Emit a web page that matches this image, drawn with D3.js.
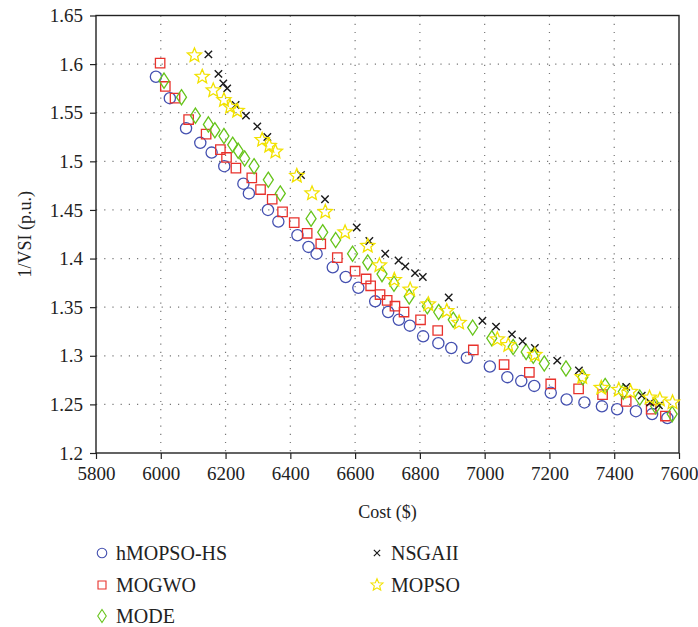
<!DOCTYPE html>
<html>
<head>
<meta charset="utf-8">
<script src="https://cdn.jsdelivr.net/npm/d3@7"></script>
<style>
  body { margin: 0; background: #fff; }
  svg { display: block; font-family: "Liberation Serif", "DejaVu Serif", serif; }
</style>
</head>
<body>
<svg id="chart" width="698" height="627"></svg>
<script>
// Axis ticks
var xTicks = [5800, 6000, 6200, 6400, 6600, 6800, 7000, 7200, 7400, 7600];
var yTicks = [1.2, 1.25, 1.3, 1.35, 1.4, 1.45, 1.5, 1.55, 1.6, 1.65];

// Series: [cost, 1/VSI]
var hmopsoHs = [
  [5985, 1.587], [6028, 1.565], [6078, 1.534], [6122, 1.519], [6157, 1.509],
  [6196, 1.495], [6255, 1.477], [6272, 1.467], [6331, 1.450], [6363, 1.438],
  [6422, 1.424], [6456, 1.412], [6481, 1.405], [6531, 1.391], [6571, 1.381],
  [6610, 1.370], [6662, 1.356], [6702, 1.345], [6735, 1.337], [6769, 1.331],
  [6810, 1.320], [6857, 1.313], [6897, 1.308], [6945, 1.298], [7016, 1.289],
  [7070, 1.278], [7113, 1.274], [7153, 1.269], [7204, 1.262], [7253, 1.255],
  [7308, 1.252], [7362, 1.248], [7409, 1.245], [7467, 1.243], [7517, 1.240],
  [7564, 1.236]
];
var mogwo = [
  [5998, 1.601], [6014, 1.577], [6044, 1.565], [6086, 1.543], [6140, 1.528],
  [6184, 1.512], [6203, 1.504], [6232, 1.493], [6281, 1.483], [6308, 1.471],
  [6344, 1.461], [6376, 1.448], [6412, 1.437], [6452, 1.426], [6494, 1.415],
  [6545, 1.401], [6600, 1.387], [6634, 1.379], [6648, 1.372], [6677, 1.363],
  [6699, 1.357], [6723, 1.351], [6751, 1.345], [6802, 1.337], [6855, 1.326],
  [6965, 1.306], [7060, 1.291], [7138, 1.283], [7204, 1.271], [7290, 1.266],
  [7364, 1.260], [7437, 1.253], [7514, 1.245], [7558, 1.238]
];
var mode = [
  [6010, 1.583], [6064, 1.566], [6107, 1.547], [6147, 1.538], [6167, 1.532],
  [6195, 1.526], [6222, 1.517], [6239, 1.511], [6259, 1.503], [6288, 1.495],
  [6332, 1.481], [6369, 1.467], [6464, 1.441], [6500, 1.427], [6540, 1.419],
  [6592, 1.405], [6639, 1.396], [6683, 1.384], [6720, 1.374], [6767, 1.361],
  [6823, 1.351], [6858, 1.345], [6903, 1.337], [6963, 1.329], [7022, 1.318],
  [7088, 1.309], [7128, 1.304], [7150, 1.300], [7184, 1.292], [7251, 1.287],
  [7303, 1.278], [7372, 1.269], [7428, 1.263], [7479, 1.257], [7528, 1.248],
  [7579, 1.240]
];
var nsgaii = [
  [6147, 1.610], [6178, 1.590], [6193, 1.580], [6205, 1.575], [6231, 1.558],
  [6263, 1.547], [6298, 1.536], [6329, 1.525], [6433, 1.486], [6507, 1.461],
  [6605, 1.432], [6644, 1.418], [6693, 1.405], [6734, 1.398], [6755, 1.392],
  [6785, 1.385], [6809, 1.381], [6889, 1.360], [6993, 1.336], [7035, 1.330],
  [7084, 1.322], [7117, 1.315], [7155, 1.308], [7224, 1.295], [7291, 1.285],
  [7437, 1.268], [7485, 1.259], [7511, 1.252], [7538, 1.249]
];
var mopso = [
  [6104, 1.609], [6128, 1.587], [6162, 1.573], [6195, 1.563], [6214, 1.556],
  [6236, 1.552], [6313, 1.522], [6335, 1.516], [6354, 1.510], [6420, 1.485],
  [6467, 1.467], [6508, 1.448], [6569, 1.427], [6639, 1.413], [6675, 1.393],
  [6721, 1.378], [6770, 1.368], [6826, 1.353], [6883, 1.346], [6921, 1.334],
  [7039, 1.317], [7073, 1.311], [7155, 1.301], [7301, 1.278], [7360, 1.267],
  [7414, 1.265], [7450, 1.263], [7509, 1.257], [7541, 1.255], [7580, 1.252]
];

var seriesNames = ["hMOPSO-HS", "MOGWO", "MODE", "NSGAII", "MOPSO"];
var seriesData  = [hmopsoHs, mogwo, mode, nsgaii, mopso];
var seriesColor = ["#4450b0", "#e8322c", "#66c41a", "#1a1a1a", "#f2e200"];
var seriesShape = ["circle", "square", "diamond", "cross", "star"];

var margin = { top: 15.5, right: 19, bottom: 174, left: 96 };
var width  = 698 - margin.left - margin.right;
var height = 627 - margin.top - margin.bottom;

var svg = d3.select("#chart").append("g")
    .attr("transform", "translate(" + margin.left + "," + margin.top + ")");

var x = d3.scaleLinear().domain([5800, 7600]).range([0, width]);
var y = d3.scaleLinear().domain([1.2, 1.65]).range([height, 0]);

// Marker paths centred on 0,0
function shapePath(kind) {
  if (kind === "square") return "M-4.7,-4.7H4.7V4.7H-4.7Z";
  if (kind === "diamond") return "M0,-7.6L5,0L0,7.6L-5,0Z";
  if (kind === "cross") return "M-3.7,-3.7L3.7,3.7M-3.7,3.7L3.7,-3.7";
  var pts = [];
  for (var i = 0; i < 10; i++) {
    var r = i % 2 === 0 ? 7.4 : 3.3;
    var a = -Math.PI / 2 + i * Math.PI / 5;
    pts.push([r * Math.cos(a), r * Math.sin(a)]);
  }
  return "M" + pts.map(p => p[0].toFixed(2) + "," + p[1].toFixed(2)).join("L") + "Z";
}

function drawMarker(g, kind, color) {
  if (kind === "circle") {
    g.append("circle").attr("r", 5.6)
      .style("fill", "none").style("stroke", color).style("stroke-width", 1.3);
  } else {
    g.append("path").attr("d", shapePath(kind))
      .style("fill", "none").style("stroke", color)
      .style("stroke-width", kind === "cross" ? 1.4 : 1.3)
      .style("stroke-linejoin", "miter");
  }
}

// Grid
var grid = svg.append("g").attr("class", "grid");
grid.selectAll(".gx")
    .data(xTicks.slice(1, -1))
    .enter().append("line")
    .attr("x1", d => x(d)).attr("x2", d => x(d))
    .attr("y1", 0).attr("y2", height);
grid.selectAll(".gy")
    .data(yTicks.slice(1, -1))
    .enter().append("line")
    .attr("y1", d => y(d)).attr("y2", d => y(d))
    .attr("x1", 0).attr("x2", width);
grid.selectAll("line")
    .style("stroke", "#777")
    .style("stroke-width", 1.2)
    .style("stroke-dasharray", "1.2,7");

// Axes
var xAxisG = svg.append("g")
    .attr("transform", "translate(0," + height + ")")
    .call(d3.axisBottom(x).tickValues(xTicks).tickSize(6).tickPadding(8).tickFormat(d3.format("d")));
var yAxisG = svg.append("g")
    .call(d3.axisLeft(y).tickValues(yTicks).tickSize(6).tickPadding(7).tickFormat(d => String(+d.toFixed(2))));

[xAxisG, yAxisG].forEach(function(g) {
  g.select(".domain").remove();
  g.selectAll("line").style("stroke", "#222").style("stroke-width", 1.2);
  g.selectAll("text")
    .style("font-family", "'Liberation Serif', serif")
    .style("font-size", "19px")
    .style("fill", "#222");
});

// Frame
svg.append("rect")
    .attr("width", width).attr("height", height)
    .style("fill", "none").style("stroke", "#222").style("stroke-width", 1.4);

// Points
seriesData.forEach(function(data, i) {
  var layer = svg.append("g").attr("class", "series-" + i);
  layer.selectAll("g")
    .data(data)
    .enter().append("g")
    .attr("transform", d => "translate(" + x(d[0]) + "," + y(d[1]) + ")")
    .each(function() { drawMarker(d3.select(this), seriesShape[i], seriesColor[i]); });
});

// Axis titles
svg.append("text")
    .attr("x", width / 2)
    .attr("y", height + 65)
    .attr("text-anchor", "middle")
    .style("font-size", "18px")
    .style("fill", "#222")
    .text("Cost ($)");

svg.append("text")
    .attr("transform", "rotate(-90)")
    .attr("x", -height / 2)
    .attr("y", -margin.left + 31)
    .attr("text-anchor", "middle")
    .style("font-size", "18px")
    .style("fill", "#222")
    .text("1/VSI (p.u.)");

// Legend
var legendPos = [[102, 553], [102, 585], [102, 616], [377, 553], [377, 585]];
var legend = d3.select("#chart").append("g");
seriesNames.forEach(function(name, i) {
  var item = legend.append("g")
      .attr("transform", "translate(" + legendPos[i][0] + "," + legendPos[i][1] + ")");
  var m = item.append("g").attr("transform", "scale(0.85)");
  drawMarker(m, seriesShape[i], seriesColor[i]);
  item.append("text")
      .attr("x", 14)
      .attr("y", 6.5)
      .style("font-size", "20px")
      .style("fill", "#222")
      .text(name);
});
</script>
</body>
</html>
